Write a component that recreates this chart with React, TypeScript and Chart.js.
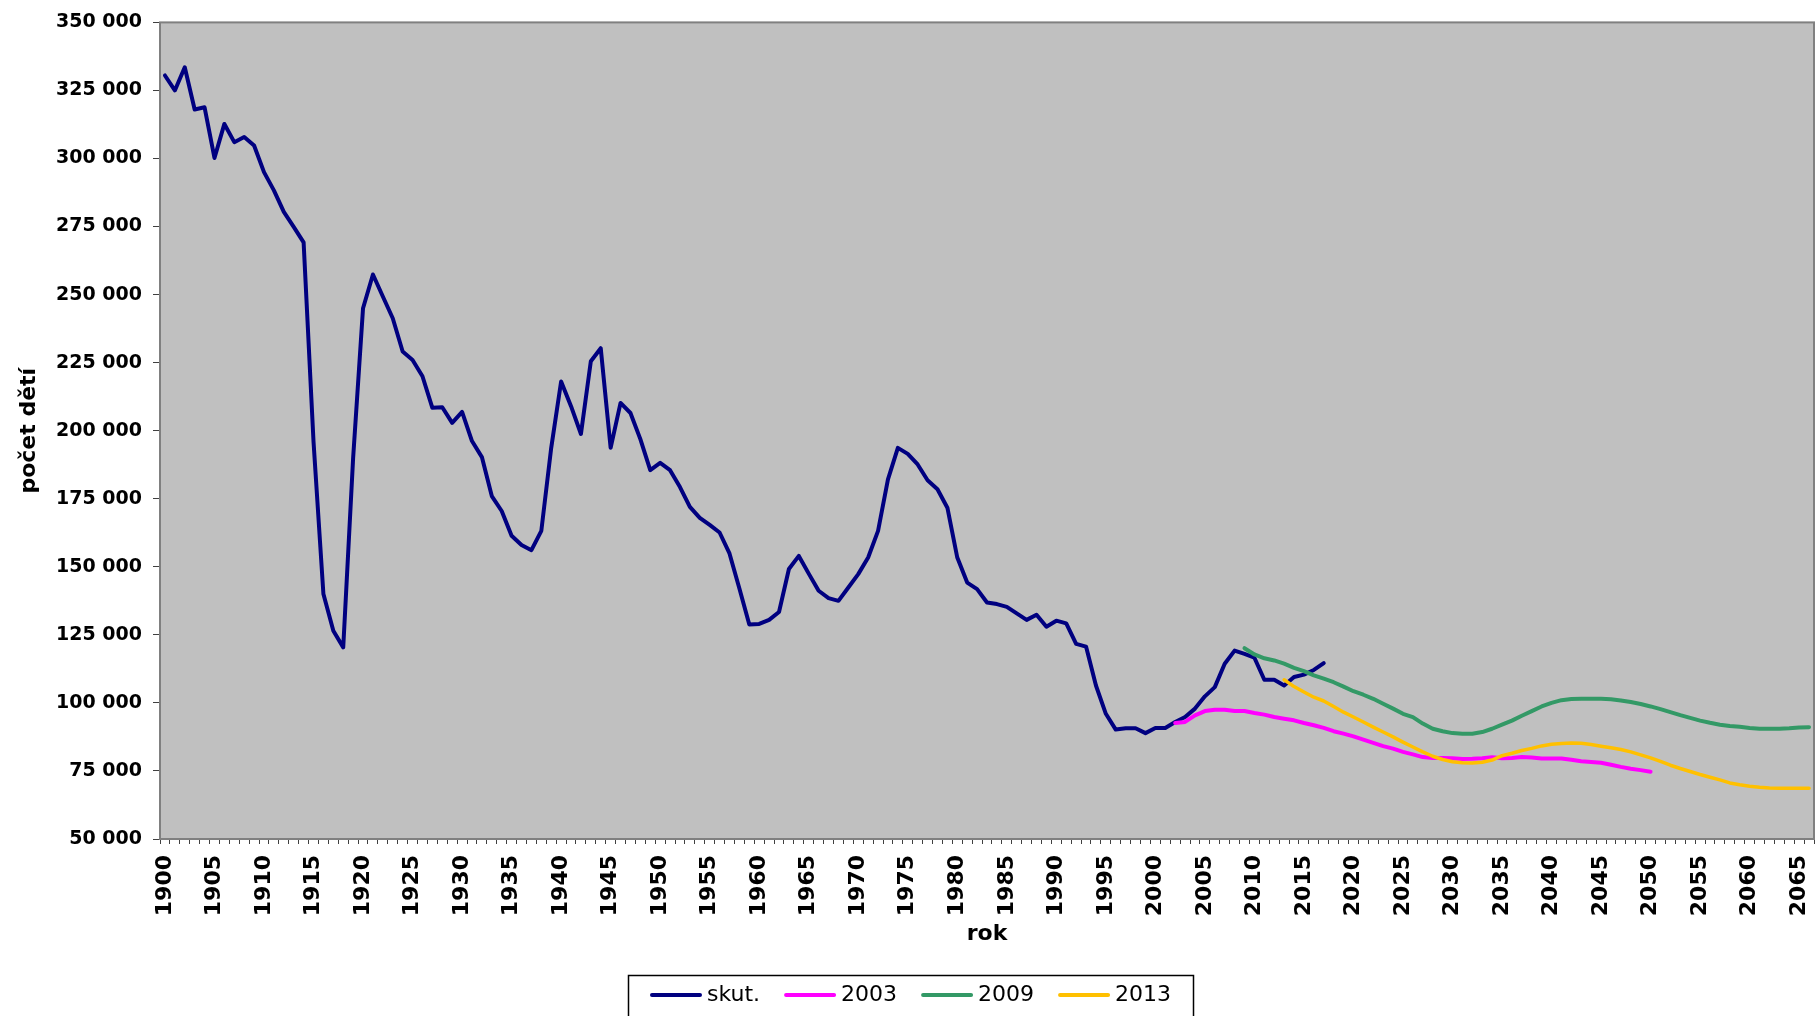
import { useEffect, useRef } from "react";
import { Chart, registerables } from "chart.js";

Chart.register(...registerables);

// ---- data ----
const FIRST_YEAR = 1900;
const LAST_YEAR = 2066;
const years: number[] = [];
for (let y = FIRST_YEAR; y <= LAST_YEAR; y++) years.push(y);

const seriesLabels = ["skut.", "2003", "2009", "2013"];
const seriesColors = ["#000080", "#FF00FF", "#339966", "#FFC000"];

// actual births 1900..2017
const actualStart = 1900;
const actualBirths = [
  330500, 325000, 333500, 318000, 318800, 300200, 312700, 306000, 307900, 304800,
  295000, 288300, 280400, 274900, 269200, 196000, 140000, 126500, 120400, 190000,
  245000, 257400, 249300, 241300, 229100, 226000, 220000, 208400, 208600, 202900,
  206900, 196200, 190300, 176000, 170500, 161400, 158000, 156100, 163200, 193700,
  218100, 209000, 198800, 225500, 230300, 193700, 210200, 206500, 196900, 185500,
  188200, 185500, 179300, 172000, 168000, 165400, 162600, 154900, 142000, 128800,
  129000, 130500, 133400, 149200, 154000, 147500, 141200, 138500, 137500, 142400,
  147300, 153400, 163200, 182100, 193700, 191500, 187600, 181800, 178500, 171700,
  153400, 144200, 141800, 136900, 136300, 135300, 132900, 130500, 132400, 128000,
  130200, 129200, 121700, 120700, 106400, 96000, 90200, 90700, 90700, 88900,
  90800, 90800, 93000, 94800, 97900, 102400, 105800, 114400, 119200, 118000,
  116600, 108500, 108500, 106400, 109500, 110400, 112100, 114600,
];

// projection 2003: 2002..2050
const proj2003Start = 2002;
const proj2003 = [
  92600, 93000, 95400, 97000, 97500, 97500, 97000, 97000, 96300, 95700,
  94800, 94200, 93600, 92600, 91800, 90800, 89600, 88700, 87700, 86500,
  85300, 84100, 83200, 82000, 81100, 80100, 79800, 79800, 79700, 79400,
  79500, 79700, 80000, 79700, 79800, 80100, 79900, 79600, 79600, 79600,
  79100, 78600, 78300, 78000, 77300, 76500, 75800, 75300, 74700,
];

// projection 2009: 2009..2066
const proj2009Start = 2009;
const proj2009 = [
  120100, 117800, 116400, 115600, 114400, 112900, 111700, 110100, 108900, 107600,
  106000, 104300, 103000, 101500, 99700, 97900, 96000, 94800, 92400, 90500,
  89600, 88900, 88700, 88700, 89300, 90500, 92000, 93500, 95300, 97000,
  98700, 100000, 101000, 101400, 101500, 101500, 101500, 101300, 100900, 100300,
  99600, 98700, 97700, 96600, 95500, 94500, 93500, 92700, 92000, 91500,
  91200, 90800, 90500, 90500, 90500, 90700, 91000, 91100,
];

// projection 2013: 2013..2066
const proj2013Start = 2013;
const proj2013 = [
  108500, 106000, 104000, 102100, 100700, 98700, 96600, 94800, 93000, 91100,
  89300, 87500, 85600, 83800, 82000, 80400, 79200, 78400, 78000, 77900,
  78200, 79000, 80600, 81500, 82500, 83300, 84200, 84800, 85100, 85300,
  85200, 84700, 84100, 83500, 82900, 82000, 80900, 79800, 78500, 77100,
  75900, 74800, 73700, 72700, 71700, 70600, 69900, 69400, 69000, 68700,
  68600, 68600, 68600, 68600,
];

const yMin = 50000;
const yMax = 350000;
const yStep = 25000;
const xTitle = "rok";
const yTitle = "počet dětí";

// ---- helpers ----
const place = (start: number, values: number[]) =>
  years.map((y) => {
    const i = y - start;
    return i >= 0 && i < values.length ? values[i] : null;
  });

const fmt = (v: number) => String(v).replace(/\B(?=(\d{3})+(?!\d))/g, " ");

const FONT = "'DejaVu Sans', Verdana, sans-serif";

const plotPlugin = {
  id: "plotArea",
  beforeDraw(chart: any) {
    const { ctx, chartArea: a } = chart;
    ctx.save();
    ctx.fillStyle = "#FFFFFF";
    ctx.fillRect(0, 0, chart.width, chart.height);
    ctx.fillStyle = "#C0C0C0";
    ctx.fillRect(a.left, a.top, a.right - a.left, a.bottom - a.top);
    ctx.restore();
  },
  beforeDatasetsDraw(chart: any) {
    const { ctx, chartArea: a } = chart;
    ctx.save();
    ctx.strokeStyle = "#808080";
    ctx.lineWidth = 2;
    ctx.strokeRect(a.left, a.top, a.right - a.left, a.bottom - a.top);
    ctx.restore();
  },
};

const legendPlugin = {
  id: "boxLegend",
  afterDraw(chart: any) {
    const ctx = chart.ctx;
    ctx.save();
    ctx.font = `normal 22px ${FONT}`;
    const sampleW = 52;
    const gap = 5;
    const spacing = 24;
    const padX = 22;
    const widths = seriesLabels.map((l) => sampleW + gap + ctx.measureText(l).width);
    const total = widths.reduce((s, w) => s + w, 0) + spacing * (seriesLabels.length - 1);
    const boxW = Math.round(total + padX * 2);
    const cx = chart.width / 2 + 2;
    const left = Math.round(cx - boxW / 2);
    const top = 975;
    const cy = 995;
    ctx.fillStyle = "#FFFFFF";
    ctx.fillRect(left, top, boxW, 60);
    ctx.strokeStyle = "#000000";
    ctx.lineWidth = 1.5;
    ctx.strokeRect(left + 0.5, top + 0.5, boxW, 60);
    let x = left + padX;
    seriesLabels.forEach((label, i) => {
      ctx.strokeStyle = seriesColors[i];
      ctx.lineWidth = 4;
      ctx.lineCap = "round";
      ctx.beginPath();
      ctx.moveTo(x + 2, cy);
      ctx.lineTo(x + sampleW - 2, cy);
      ctx.stroke();
      ctx.fillStyle = "#000000";
      ctx.textBaseline = "middle";
      ctx.textAlign = "left";
      ctx.fillText(label, x + sampleW + gap, cy);
      x += widths[i] + spacing;
    });
    ctx.restore();
  },
};

export default function App() {
  const ref = useRef<HTMLCanvasElement | null>(null);

  useEffect(() => {
    if (!ref.current) return;
    const series = [
      place(actualStart, actualBirths),
      place(proj2003Start, proj2003),
      place(proj2009Start, proj2009),
      place(proj2013Start, proj2013),
    ];
    const widthsLine = [4, 4, 4, 3.5];
    const orders = [3, 2, 1, 0];
    const chart = new Chart(ref.current, {
      type: "line",
      data: {
        labels: years.map(String),
        datasets: series.map((d, i) => ({
          label: seriesLabels[i],
          data: d,
          borderColor: seriesColors[i],
          backgroundColor: seriesColors[i],
          borderWidth: widthsLine[i],
          pointRadius: 0,
          pointHoverRadius: 0,
          tension: 0,
          spanGaps: false,
          borderJoinStyle: "round" as const,
          borderCapStyle: "round" as const,
          order: orders[i],
        })),
      },
      options: {
        responsive: false,
        animation: false,
        devicePixelRatio: 1,
        layout: { padding: { top: 20, right: 2, bottom: 61, left: 0 } },
        plugins: {
          legend: { display: false },
          tooltip: { enabled: false },
        },
        scales: {
          x: {
            type: "category",
            offset: true,
            border: { display: false },
            grid: {
              offset: true,
              drawOnChartArea: false,
              drawTicks: true,
              tickLength: 5,
              color: "#404040",
              lineWidth: 1,
            },
            ticks: {
              autoSkip: false,
              minRotation: 90,
              maxRotation: 90,
              padding: 11,
              color: "#000000",
              font: { family: FONT, weight: "bold", size: 22 },
              callback: (_v: any, index: number) =>
                years[index] % 5 === 0 ? String(years[index]) : "",
            },
            title: {
              display: true,
              text: xTitle,
              color: "#000000",
              font: { family: FONT, weight: "bold", size: 22 },
              padding: { top: 0, bottom: 8 },
            },
            afterFit: (scale: any) => {
              scale.height = 116;
              scale.paddingLeft = 0;
              scale.paddingRight = 0;
            },
          },
          y: {
            min: yMin,
            max: yMax,
            border: { display: false },
            grid: {
              drawOnChartArea: false,
              drawTicks: true,
              tickLength: 7,
              color: "#404040",
              lineWidth: 1,
            },
            ticks: {
              stepSize: yStep,
              padding: 11,
              color: "#000000",
              font: { family: FONT, weight: "bold", size: 19 },
              callback: (v: any) => fmt(Number(v)),
            },
            title: {
              display: true,
              text: yTitle,
              color: "#000000",
              font: { family: FONT, weight: "bold", size: 22 },
              padding: { top: 16, bottom: 0 },
            },
            afterFit: (scale: any) => {
              scale.width = 160;
            },
          },
        },
      },
      plugins: [plotPlugin, legendPlugin],
    } as any);
    return () => chart.destroy();
  }, []);

  return (
    <div
      style={{
        position: "fixed",
        left: 0,
        top: 0,
        width: 1816,
        height: 1016,
        background: "#ffffff",
        overflow: "hidden",
      }}
    >
      <canvas ref={ref} width={1816} height={1016} style={{ display: "block" }} />
    </div>
  );
}
